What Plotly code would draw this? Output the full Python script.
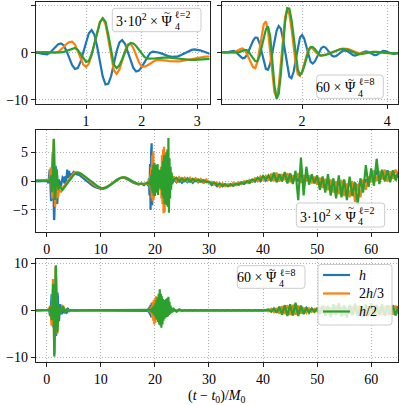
import plotly.graph_objects as go

W, H = 399, 405

# ---------------- sample times ----------------
t_pre = [-2.0, -1.0]
t_fine = [round(0.05 * i, 2) for i in range(87)]          # 0.00 .. 4.30
t_mid = [4.5 + 0.5 * i for i in range(29)]                 # 4.5 .. 18.5
t_burst = [round(18.8 + 0.1 * i, 1) for i in range(45)]    # 18.8 .. 23.2
t_late = [23.5 + 0.5 * i for i in range(84)]               # 23.5 .. 65.0

# ---------------- l = 2 (scaled by 3e2) ----------------
l2_h_pre = [0.0, 0.0]
l2_h_fine = [0.0, 0.02, 0.05, -0.02, -0.19, -0.32, -0.32, 0.02, 0.62, 1.29, 1.81, 2.0, 1.55, 0.34, -1.23, -2.64,
             -3.43, -3.27, -1.94, 0.18, 2.45, 4.16, 4.8, 3.83, 1.27, -2.07, -5.07, -6.74, -6.61, -5.0, -2.38, 0.3,
             2.19, 2.68, 1.92, 0.31, -1.61, -3.22, -3.98, -3.8, -3.07, -1.99, -0.88, -0.05, 0.25, 0.2, 0.06, -0.14,
             -0.37, -0.6, -0.78, -0.88, -0.89, -0.77, -0.54, -0.23, 0.1, 0.39, 0.6, 0.7, 0.66, 0.52, 0.3, 0.05,
             -0.18, -0.34, -0.4,
             -0.3, 0.2, 0.9, 0.3, -0.5, 0.4, 1.3, 0.6, 1.5, 2.0, 1.0, 0.6, 1.6, 1.2, 0.5, 1.4, 1.8, 1.0, 0.8, 1.3]
l2_h_mid = [1.0, 1.6, 1.2, 1.1, 0.7, 0.35, -0.05, -0.45, -0.8, -1.05, -1.25, -1.35, -1.3, -1.15, -0.85, -0.45,
            -0.05, 0.3, 0.5, 0.6, 0.5, 0.3, 0.0, -0.3, -0.5, -0.6, -0.4, -0.7, -0.3]
l2_h_burst = [-0.8, 0.5, -2.5, 3.0, -5.0, 5.0, 6.6, -4.2, 4.0, -3.0, 2.5, -2.0, 2.0, -1.5, 1.2, -0.8, 1.0, -0.4,
              0.8, -0.2, 0.7, 0.0, 0.6, 0.1, 0.7, 0.0, 0.5, 0.1, 0.6, 0.0, 0.5, 0.2, 0.6, 0.0, 0.5, 0.1, 0.6, 0.0,
              0.5, 0.1, 0.4, 0.0, 0.5, 0.1, 0.4]
l2_h_late = [0.4, -0.2, 0.3, -0.3, 0.2, -0.2, 0.3, -0.3, 0.2, -0.2, 0.1, -0.3, 0.1,
             -0.2, -0.7, -0.4, -0.9, -0.5, -0.9, -0.6, -0.8, -0.5, -0.8, -0.5,
             -0.6, -0.3, -0.5, -0.1, -0.3, 0.1,
             -0.1, 0.5, 0.0, 0.7, 0.1, 0.8,
             0.0, 1.1, 0.1, 1.2, 0.0, 1.0, 0.2, 1.3, 0.1, 0.9,
             0.0, 1.2, -0.2, 0.9,
             -0.1, 0.8, -0.3, 0.6,
             -0.4, 0.3, -0.9, 0.0, -1.2, -0.3, -1.4, -0.2, -1.1, -0.4, -1.5, -0.1, -1.2, -0.3, -1.3, 0.0, -0.9,
             0.3, -0.5,
             1.0, 0.2, 1.8, 0.4, 1.6, 0.3, 1.9, 0.5, 1.7, 0.6, 1.5]

l2_2h3_pre = [0.2, 0.25]
l2_2h3_fine = [0.3, 0.3, 0.28, 0.27, 0.25, 0.23, 0.16, 0.09, 0.02, 0.0, 0.17, 0.63, 1.26, 1.87, 2.29, 2.38, 1.72,
               0.35, -1.26, -2.52, -3.0, -2.31, -0.43, 2.15, 4.73, 6.61, 7.3, 6.08, 2.93, -0.86, -3.71, -4.47,
               -3.55, -1.68, 0.38, 1.75, 1.91, 1.02, -0.5, -2.02, -2.91, -2.96, -2.72, -2.33, -1.92, -1.62, -1.5,
               -1.52, -1.59, -1.68, -1.76, -1.83, -1.85, -1.83, -1.78, -1.71, -1.6, -1.48, -1.35, -1.22, -1.09,
               -0.98, -0.9, -0.83, -0.8, -0.78, -0.76,
               -0.72, -0.66, -0.6, -0.53, -0.46, -0.39, -0.32, -0.25, -0.18, -0.11, -0.04, 0.03, 0.1, 0.17, 0.23,
               0.29, 0.35, 0.41, 0.46, 0.51]
l2_2h3_mid = [0.75, 1.4, 1.6, 1.45, 1.15, 0.75, 0.35, -0.05, -0.45, -0.8, -1.05, -1.2, -1.2, -1.05, -0.8, -0.45,
              -0.1, 0.25, 0.5, 0.65, 0.6, 0.4, 0.1, -0.2, -0.4, -0.5, -0.5, -0.45, -0.4]
l2_2h3_burst = [-0.5, 0.3, -0.8, 1.0, -1.5, 2.5, -3.0, 4.5, -3.5, 5.2, -3.0, 3.0, -2.0, 2.0, -1.0, 1.2, -0.5, 1.0,
                -0.6, 1.2, -1.0, 1.5, -1.5, 2.5, -3.0, 4.5, -4.0, 5.5, -5.6, 6.0, -5.4, 4.0, -2.5, 2.5, -1.0, 1.5,
                -0.3, 1.0, 0.0, 0.8, 0.1, 0.7, 0.2, 0.6, 0.3]
l2_2h3_late = [0.8, 0.0, 0.7, 0.1, 0.6, 0.0, 0.6, 0.0, 0.5, -0.1, 0.4, -0.2, 0.3,
               -0.3, -0.1, -0.6, -0.3, -1.0, -0.4, -0.9, -0.5, -0.8, -0.3, -0.7,
               -0.2, -0.5, 0.0, -0.3, 0.2, -0.1,
               0.5, 0.0, 0.8, 0.2, 0.9, 0.1,
               1.3, 0.0, 1.5, -0.1, 1.2, 0.2, 1.4, -0.2, 1.0, 0.1,
               1.4, -0.3, 1.1, 0.0,
               1.0, -0.4, 0.8, -0.6,
               0.6, -1.2, 0.4, -1.6, 0.3, -2.0, 0.0, -2.3, 0.2, -2.6, -0.4, -2.8, 0.0, -3.6, -0.5, -2.8, 0.3,
               -1.5, 0.8,
               -0.2, 1.9, 0.0, 1.8, 0.3, 2.0, -0.1, 1.7, 0.4, 2.0, 1.0]

l2_h2_pre = [0.0, 0.0]
l2_h2_fine = [0.0, 0.0, 0.0, 0.0, 0.0, 0.02, 0.03, 0.04, 0.05, 0.07, 0.08, 0.1, 0.19, 0.41, 0.69, 0.91, 1.0, 0.63,
              -0.29, -1.31, -1.94, -1.76, -0.38, 1.93, 4.43, 6.44, 7.37, 6.62, 3.84, 0.26, -2.52, -3.28, -2.67,
              -1.37, 0.17, 1.47, 2.08, 1.96, 1.44, 0.66, -0.19, -0.89, -1.26, -1.29, -1.26, -1.2, -1.13, -1.06,
              -1.02, -1.0, -1.02, -1.08, -1.17, -1.28, -1.38, -1.47, -1.53, -1.55, -1.54, -1.5, -1.44, -1.36,
              -1.29, -1.21, -1.15, -1.11, -1.1,
              -1.08, -1.04, -0.99, -0.93, -0.86, -0.79, -0.71, -0.63, -0.55, -0.47, -0.39, -0.31, -0.23, -0.15,
              -0.08, -0.01, 0.06, 0.12, 0.18, 0.24]
l2_h2_mid = [0.45, 1.1, 1.45, 1.45, 1.2, 0.85, 0.45, 0.05, -0.35, -0.7, -0.95, -1.15, -1.2, -1.1, -0.85, -0.5,
             -0.15, 0.2, 0.5, 0.65, 0.65, 0.45, 0.15, -0.15, -0.35, -0.45, -0.5, -0.45, -0.4]
l2_h2_burst = [-0.4, -0.2, -0.5, 0.3, -0.8, 1.0, -1.5, 2.0, -2.0, 2.8, -2.5, 3.2, -2.6, 2.5, -1.8, 2.8, -2.0, 3.0,
               -2.4, 2.0, -1.2, 1.5, -1.0, 2.0, -1.5, 2.5, -2.5, 3.5, -3.0, 4.5, -4.0, 4.0, -3.5, 5.0, -4.2, 5.5,
               -4.5, 7.5, -5.5, 4.0, -3.0, 2.5, -1.5, 1.5, -0.5]
l2_h2_late = [0.3, 0.6, -0.1, 0.5, 0.0, 0.5, -0.1, 0.4, 0.0, 0.3, -0.1, 0.2, -0.2,
              -0.1, -0.5, -0.2, -0.7, -0.4, -0.8, -0.5, -0.9, -0.6, -0.8, -0.4,
              -0.6, -0.2, -0.4, 0.0, -0.2, 0.3,
              0.0, 0.6, 0.2, 0.9, 0.3, 1.0,
              0.1, 1.5, -0.2, 1.2, 0.0, 1.6, -0.4, 1.3, -0.5, 1.8,
              -3.3, 4.1, -2.5, 2.5,
              -0.6, 1.2, -0.4, 1.0,
              -1.5, 0.8, -2.0, 1.2, -2.5, 0.5, -3.0, 1.0, -2.8, 0.3, -3.3, 0.8, -2.6, -0.2, -4.1, 0.5, -2.0,
              2.8, -1.0,
              2.2, -0.8, 3.9, -0.5, 2.0, 0.0, 1.8, -0.2, 1.9, 0.1, 1.4]

# ---------------- l = 8 (scaled by 60) ----------------
l8_h_pre = [0.0, 0.0]
l8_h_fine = [0.0, 0.0, 0.0, 0.0, 0.0, 0.07, 0.23, 0.37, 0.37, 0.09, -0.4, -0.89, -1.17, -1.1, -0.49, 0.49, 1.61,
             2.59, 3.2, 3.19, 2.03, 0.02, -2.08, -3.46, -3.58, -2.32, -0.05, 2.57, 4.68, 5.67, 5.13, 2.98, -0.06,
             -3.08, -5.06, -5.42, -4.1, -1.56, 1.23, 3.25, 3.78, 2.97, 1.32, -0.55, -1.92, -2.29, -1.85, -0.93,
             0.14, 0.98, 1.3, 1.1, 0.57, -0.07, -0.6, -0.8, -0.68, -0.35, 0.05, 0.38, 0.5, 0.4, 0.12, -0.22, -0.5,
             -0.6, -0.51, -0.29, -0.01, 0.21, 0.3, 0.2, -0.04, -0.32, -0.48, -0.45, -0.19, 0.15, 0.38, 0.37, 0.21,
             -0.02, -0.22, -0.3, -0.2, -0.1, 0.0]
l8_h_mid = [0.1, -0.05, 0.02, 0.0, 0.0, 0.0, 0.0, 0.0, 0.0, 0.0, 0.0, 0.0, 0.0, 0.0, 0.0, 0.0, 0.0, 0.0, 0.0,
            0.0, 0.0, 0.0, 0.0, 0.0, 0.0, 0.0, 0.0, 0.05, -0.1]
l8_h_burst = [0.3, -0.6, 0.8, -1.0, 1.2, -1.5, 1.6, -1.4, 1.5, -1.6, 1.4, -1.2, 1.0, -0.8, 0.6, -0.5, 0.4, -0.3,
              0.3, -0.2, 0.2, -0.2, 0.2, -0.1, 0.1,
              0.0, 0.1, -0.1, 0.1, 0.0, 0.1, -0.1, 0.0, 0.1, -0.1, 0.0, 0.1, -0.1, 0.0, 0.1, -0.1, 0.0, 0.1, 0.0,
              0.0]
l8_h_late = [0.1, -0.1, 0.1, 0.0,
             0.03, -0.03, 0.02, -0.02, 0.03, -0.03, 0.02, -0.02, 0.03, -0.03, 0.02, -0.02, 0.03, -0.03, 0.02,
             -0.02, 0.03, -0.03, 0.02, -0.02, 0.03, -0.03, 0.02, -0.02, 0.03, -0.03, 0.02, -0.02, 0.03, -0.03,
             0.05,
             0.1, -0.2, 0.3, -0.3,
             0.5, -0.6, 0.8, -0.9, 0.7, -1.0, 1.1, -0.8, 0.9, -0.6, 0.5,
             -0.4, 0.3, -0.3, 0.2,
             -0.5, 0.6, -0.8, 0.7, -0.6, 0.9, -0.7, 0.5, -0.9, 0.8, -0.6, 0.7, -1.0, 0.6, -0.7, 0.9, -0.8, 0.6,
             -0.9, 1.0, -0.7, 0.8, -1.0, 0.9, -0.8,
             1.0, -0.9, 1.1, -1.0, 0.8]

l8_2h3_pre = [0.0, 0.0]
l8_2h3_fine = [0.0, 0.0, 0.0, 0.0, 0.0, 0.0, 0.0, 0.0, 0.09, 0.31, 0.59, 0.81, 0.9, 0.6, -0.21, -1.31, -2.38,
               -3.11, -3.26, -1.94, 0.76, 3.83, 6.08, 6.64, 4.52, 0.16, -4.78, -8.4, -9.34, -7.07, -2.32, 3.2,
               7.54, 9.2, 8.11, 5.18, 1.3, -2.32, -4.6, -4.91, -3.97, -2.32, -0.53, 0.75, 1.09, 0.83, 0.31, -0.24,
               -0.57, -0.59, -0.53, -0.42, -0.27, -0.08, 0.11, 0.31, 0.5, 0.67, 0.79, 0.87, 0.9, 0.85, 0.71, 0.51,
               0.28, 0.06, -0.1, -0.19, -0.19, -0.15, -0.07, 0.03, 0.12, 0.18, 0.2, 0.18, 0.13, 0.05, -0.03,
               -0.08, -0.1, -0.09, -0.07, -0.05, -0.03, -0.01, 0.0]
l8_2h3_mid = [-0.05, 0.03, 0.0, 0.0, 0.0, 0.0, 0.0, 0.0, 0.0, 0.0, 0.0, 0.0, 0.0, 0.0, 0.0, 0.0, 0.0, 0.0, 0.0,
              0.0, 0.0, 0.0, 0.0, 0.0, 0.0, 0.0, 0.0, 0.0, 0.05]
l8_2h3_burst = [0.1, -0.2, 0.3, -0.4, 0.6, -0.8, 1.0, -1.4, 1.8, -2.2, 2.2, -3.0, 2.5, -2.6, 3.0, -2.0, 2.2, -1.5,
                1.4, -1.0, 0.9, -0.7, 0.6, -0.5, 0.5, -0.4, 0.4, -0.3, 0.3, -0.3, 0.3, -0.2, 0.2, -0.2, 0.2, -0.1,
                0.1, -0.1, 0.1, -0.1, 0.1, 0.0, 0.1, 0.0, 0.0]
l8_2h3_late = [-0.1, 0.1, -0.05, 0.05,
               -0.02, 0.02, -0.03, 0.03, -0.02, 0.02, -0.03, 0.03, -0.02, 0.02, -0.03, 0.03, -0.02, 0.02, -0.03,
               0.03, -0.02, 0.02, -0.03, 0.03, -0.02, 0.02, -0.03, 0.03, -0.02, 0.02, -0.03, 0.03, -0.02, 0.02,
               -0.05,
               -0.2, 0.3, -0.4, 0.5,
               -0.7, 0.9, -0.8, 1.1, -1.0, 1.2, -0.9, 1.0, -0.7, 0.6, -0.5,
               0.4, -0.3, 0.3, -0.2,
               0.7, -0.6, 0.9, -0.8, 0.6, -0.9, 1.0, -0.7, 0.8, -1.1, 0.7, -0.8, 0.9, -0.6, 1.0, -0.9, 0.7, -1.0,
               0.8, -0.7, 1.1, -0.9, 0.8, -1.0, 0.9,
               -1.0, 1.1, -0.9, 1.0, -0.7]

l8_h2_pre = [0.0, 0.0]
l8_h2_fine = [0.0, 0.0, 0.0, 0.0, 0.0, 0.0, 0.0, 0.0, 0.0, 0.0, 0.07, 0.24, 0.44, 0.58, 0.56, 0.15, -0.57, -1.32,
              -1.81, -1.8, -0.73, 1.2, 3.34, 4.98, 5.6, 3.53, -1.57, -6.98, -9.81, -8.77, -4.63, 1.13, 6.48, 9.51,
              9.39, 7.07, 3.37, -0.6, -3.58, -4.7, -4.21, -2.89, -1.18, 0.36, 1.22, 1.22, 0.79, 0.16, -0.39, -0.6,
              -0.57, -0.48, -0.33, -0.15, 0.06, 0.27, 0.46, 0.62, 0.74, 0.8, 0.78, 0.68, 0.51, 0.3, 0.07, -0.12,
              -0.25, -0.3, -0.28, -0.21, -0.11, 0.01, 0.11, 0.18, 0.2, 0.18, 0.13, 0.05, -0.03, -0.08, -0.1, -0.09,
              -0.07, -0.05, -0.03, -0.01, 0.0]
l8_h2_mid = [0.0, 0.0, 0.0, 0.0, 0.0, 0.0, 0.0, 0.0, 0.0, 0.0, 0.0, 0.0, 0.0, 0.0, 0.0, 0.0, 0.0, 0.0, 0.0,
             0.0, 0.0, 0.0, 0.0, 0.0, 0.0, 0.0, 0.0, 0.0, 0.0]
l8_h2_burst = [0.0, 0.1, -0.1, 0.2, -0.2, 0.3, -0.4, 0.5, -0.6, 0.8, -0.9, 1.0, -1.2, 1.5, -1.8, 2.2, -2.0, 2.8,
               -2.5, 3.5, -3.0, 4.5, -3.2, 3.5, -3.7, 3.0, -3.0, 2.4, -2.2, 2.0, -1.8, 2.2, -1.5, 2.4, -1.4, 2.6,
               -1.3, 2.9, -1.0, 1.8, -0.8, 1.0, -0.6, 0.6, -0.4]
l8_h2_late = [0.3, -0.3, 0.2, -0.1,
              0.05, -0.05, 0.04, -0.04, 0.05, -0.05, 0.04, -0.04, 0.05, -0.05, 0.04, -0.04, 0.05, -0.05, 0.04,
              -0.04, 0.05, -0.05, 0.04, -0.04, 0.05, -0.05, 0.04, -0.04, 0.05, -0.05, 0.04, -0.04, 0.05, -0.05,
              0.05,
              0.2, -0.3, 0.4, -0.5,
              0.8, -0.9, 1.1, -1.2, 1.3, -1.1, 1.6, -1.2, 1.0, -0.8, 0.6,
              -0.5, 0.4, -0.3, 0.5,
              -0.8, 1.0, -1.2, 0.9, -1.4, 1.3, -1.0, 1.5, -1.3, 1.1, -1.5, 1.2, -0.9, 1.4, -1.2, 1.0, -1.4, 1.3,
              -1.1, 1.5, -1.3, 1.2, -1.0, 1.3, -1.2,
              1.1, -1.0, 1.1, -1.1, 0.9]

t_all = t_pre + t_fine + t_mid + t_burst + t_late


def series(pre, fine, mid, burst, late):
    v = pre + fine + mid + burst + late
    assert len(v) == len(t_all), (len(pre), len(fine), len(mid), len(burst), len(late))
    return v


l2 = [series(l2_h_pre, l2_h_fine, l2_h_mid, l2_h_burst, l2_h_late),
      series(l2_2h3_pre, l2_2h3_fine, l2_2h3_mid, l2_2h3_burst, l2_2h3_late),
      series(l2_h2_pre, l2_h2_fine, l2_h2_mid, l2_h2_burst, l2_h2_late)]
l8 = [series(l8_h_pre, l8_h_fine, l8_h_mid, l8_h_burst, l8_h_late),
      series(l8_2h3_pre, l8_2h3_fine, l8_2h3_mid, l8_2h3_burst, l8_2h3_late),
      series(l8_h2_pre, l8_h2_fine, l8_h2_mid, l8_h2_burst, l8_h2_late)]

names = ['<i>h</i>', '2<i>h</i>/3', '<i>h</i>/2']
colors = ['#1f77b4', '#ff7f0e', '#2ca02c']

FONT = 'Liberation Serif'
LW = 2.2

fig = go.Figure()
panels = [('x', 'y', l2), ('x2', 'y2', l8), ('x3', 'y3', l2), ('x4', 'y4', l8)]
for xa, ya, data in panels:
    for k in range(3):
        fig.add_trace(go.Scatter(x=t_all, y=data[k], mode='lines', xaxis=xa, yaxis=ya,
                                 line=dict(color=colors[k], width=LW), name=names[k],
                                 showlegend=False))


def px_x(a, b):
    return [a / W, b / W]


def px_y(top, bottom):
    return [1 - bottom / H, 1 - top / H]


def axis(domain, rng, dtick, anchor, labels=True):
    return dict(domain=domain, range=rng, dtick=dtick, tick0=0, anchor=anchor, automargin=False,
                showline=True, mirror=True, linecolor='#222222', linewidth=1.2,
                ticks='outside', ticklen=4, tickwidth=1, tickcolor='#222222',
                showgrid=True, gridcolor='#b0b0b0', griddash='1px,2px', gridwidth=1,
                zeroline=False, showticklabels=labels,
                tickfont=dict(family=FONT, size=14, color='black'))


fig.update_layout(
    width=W, height=H, margin=dict(l=0, r=0, t=0, b=0, autoexpand=False),
    paper_bgcolor='white', plot_bgcolor='white', showlegend=False,
    xaxis=axis(px_x(36, 209.5), [0.1, 3.22], 1, 'y'),
    yaxis=axis(px_y(1.5, 104), [-10.9, 10.9], 10, 'x'),
    xaxis2=axis(px_x(222.3, 398.3), [0.125, 4.26], 2, 'y2'),
    yaxis2=axis(px_y(1.5, 104), [-10.9, 10.9], 10, 'x2', labels=False),
    xaxis3=axis(px_x(35.9, 398.3), [-2, 65], 10, 'y3'),
    yaxis3=axis(px_y(130, 232.3), [-8.9, 8.9], 5, 'x3'),
    xaxis4=axis(px_x(35.9, 398.3), [-2, 65], 10, 'y4'),
    yaxis4=axis(px_y(259, 361.7), [-10.9, 10.9], 10, 'x4'),
)


def X(p):
    return p / W


def Y(p):
    return 1 - p / H


def rbox(x0, y0, x1, y1, r=3):
    path = (f"M {X(x0 + r)},{Y(y0)} L {X(x1 - r)},{Y(y0)} Q {X(x1)},{Y(y0)} {X(x1)},{Y(y0 + r)} "
            f"L {X(x1)},{Y(y1 - r)} Q {X(x1)},{Y(y1)} {X(x1 - r)},{Y(y1)} "
            f"L {X(x0 + r)},{Y(y1)} Q {X(x0)},{Y(y1)} {X(x0)},{Y(y1 - r)} "
            f"L {X(x0)},{Y(y0 + r)} Q {X(x0)},{Y(y0)} {X(x0 + r)},{Y(y0)} Z")
    fig.add_shape(type='path', path=path, xref='paper', yref='paper', layer='above',
                  fillcolor='rgba(255,255,255,0.8)', line=dict(color='#cccccc', width=1))


def pa(text, x, y, xanchor='center', size=14):
    fig.add_annotation(text=text, x=X(x), y=Y(y), xref='paper', yref='paper', showarrow=False,
                       xanchor=xanchor, yanchor='middle', borderpad=0,
                       font=dict(family=FONT, size=size, color='black'))


def label(x0, y0, x1, y1, prefix, sup, psi_dx):
    rbox(x0, y0, x1, y1)
    cx, cy = (x0 + x1) / 2, (y0 + y1) / 2
    pr = cx + psi_dx
    pa(prefix + ' × Ψ', pr, cy + 0.5, xanchor='right')
    pa('~', pr - 6.0, cy - 8.0, size=11)
    pa('4', pr + 0.3, cy + 6.5, xanchor='left', size=10)
    pa('ℓ=' + sup, pr + 1.0, cy - 5.0, xanchor='left', size=10)


label(112.3, 8.3, 201, 31.7, '3·10<sup>2</sup>', '2', 16.6)
label(316.7, 75, 383.3, 98.3, '60', '8', 6.7)
label(296.3, 203, 384.7, 227, '3·10<sup>2</sup>', '2', 16.6)
label(237.3, 265.7, 305, 288.3, '60', '8', 6.7)

# legend (bottom panel)
rbox(318, 264.5, 392, 325)
for k, yy in enumerate([275, 293.5, 311.5]):
    fig.add_shape(type='line', x0=X(323), x1=X(350), y0=Y(yy), y1=Y(yy), xref='paper', yref='paper',
                  layer='above', line=dict(color=colors[k], width=LW))
    pa(names[k], 358, yy, xanchor='left')

pa('(<i>t</i> − <i>t</i><sub>0</sub>)/<i>M</i><sub>0</sub>', 217, 396.7)

fig.write_html('out.html', config={'displayModeBar': False},
               post_script="document.body.style.margin='0';")
